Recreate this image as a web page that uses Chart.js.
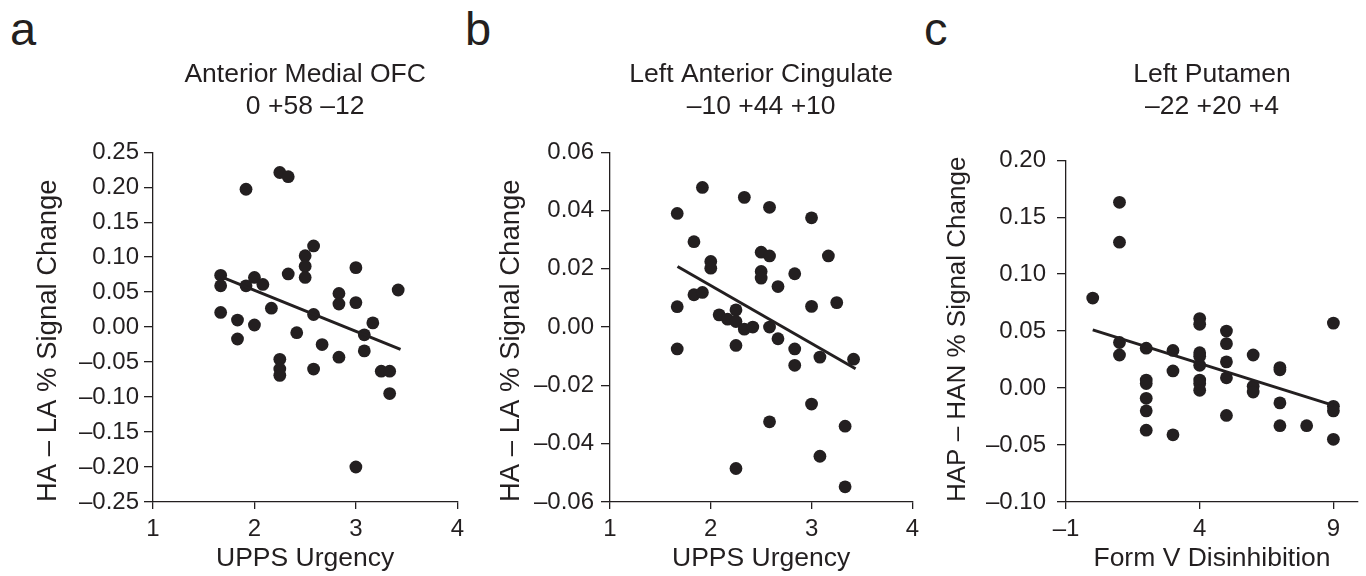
<!DOCTYPE html>
<html>
<head>
<meta charset="utf-8">
<title>Signal change vs impulsivity</title>
<script src="https://cdn.jsdelivr.net/npm/chart.js@4.4.1/dist/chart.umd.min.js"></script>
<style>
  html, body { margin: 0; padding: 0; background: #fff; }
  #page { position: relative; width: 1366px; height: 576px; overflow: hidden; font-family: "Liberation Sans", Arial, sans-serif; color: #231f20; }
  .panel { position: absolute; top: 0; height: 576px; }
  .letter { position: absolute; top: 6px; font-size: 47px; line-height: 46px; }
</style>
</head>
<body>
<div id="page">
  <div class="letter" style="left:10px">a</div>
  <div class="letter" style="left:465px">b</div>
  <div class="letter" style="left:924px">c</div>
  <div class="panel" style="left:0px;width:470px"><canvas id="chartA"></canvas></div>
  <div class="panel" style="left:470px;width:455px"><canvas id="chartB"></canvas></div>
  <div class="panel" style="left:925px;width:441px"><canvas id="chartC"></canvas></div>
</div>
<script>
// panel a: Anterior Medial OFC
const urgA = [1.667, 1.667, 1.667, 1.917, 1.917, 1.833, 1.833, 2.0, 2.0, 2.083, 2.167, 2.25, 2.333, 2.333,
  2.25, 2.25, 2.25, 2.417, 2.5, 2.5, 2.5, 2.583, 2.583, 2.583, 2.667, 2.833, 2.833, 2.833,
  3.0, 3.0, 3.0, 3.083, 3.083, 3.167, 3.25, 3.333, 3.333, 3.417];
const sigA = [0.074, 0.059, 0.021, 0.197, 0.059, 0.010, -0.017, 0.071, 0.003, 0.061, 0.027, 0.221, 0.215, 0.076,
  -0.046, -0.060, -0.069, -0.008, 0.102, 0.087, 0.071, 0.116, 0.018, -0.060, -0.025, 0.048, 0.033, -0.043,
  0.085, 0.035, -0.200, -0.011, -0.034, 0.006, -0.063, -0.063, -0.095, 0.053];
const fitXA = [1.667, 3.44];
const fitYA = [0.072, -0.032];
const xTicksA = [1, 2, 3, 4];
const yTicksA = [-0.25, -0.20, -0.15, -0.10, -0.05, 0, 0.05, 0.10, 0.15, 0.20, 0.25];

// panel b: Left Anterior Cingulate
const urgB = [1.667, 1.667, 1.667, 1.833, 1.833, 1.917, 1.917, 2.0, 2.0, 2.083, 2.167, 2.25, 2.25, 2.25, 2.25,
  2.333, 2.333, 2.417, 2.5, 2.5, 2.5, 2.583, 2.583, 2.583, 2.583, 2.667, 2.667, 2.833, 2.833, 2.833,
  3.0, 3.0, 3.0, 3.083, 3.083, 3.167, 3.25, 3.333, 3.333, 3.417];
const sigB = [0.039, 0.007, -0.0075, 0.0293, 0.0111, 0.0479, 0.0119, 0.0225, 0.0202, 0.0042, 0.0027, 0.0059, 0.0019, -0.0063, -0.0485,
  0.0445, -0.0007, 0.0, 0.0257, 0.0191, 0.0168, 0.0411, 0.0244, 0.0, -0.0325, 0.0139, -0.004, 0.0183, -0.0075, -0.0131,
  0.0375, 0.0071, -0.0264, -0.0103, -0.0443, 0.0244, 0.0084, -0.034, -0.0548, -0.011];
const fitXB = [1.67, 3.437];
const fitYB = [0.0208, -0.0143];
const xTicksB = [1, 2, 3, 4];
const yTicksB = [-0.06, -0.04, -0.02, 0, 0.02, 0.04, 0.06];

// panel c: Left Putamen
const disC = [0, 1, 1, 1, 1, 2, 2, 2, 2, 2, 2, 3, 3, 3, 4, 4, 4, 4, 4, 4, 4, 4,
  5, 5, 5, 5, 5, 6, 6, 6, 7, 7, 7, 7, 8, 9, 9, 9, 9];
const sigC = [0.079, 0.163, 0.128, 0.040, 0.029, 0.035, 0.007, 0.004, -0.009, -0.020, -0.037, 0.033, 0.015, -0.041,
  0.061, 0.056, 0.031, 0.028, 0.020, 0.007, 0.004, -0.002, 0.050, 0.039, 0.023, 0.009, -0.024,
  0.029, 0.0015, -0.0035, 0.018, 0.016, -0.013, -0.033, -0.033, 0.057, -0.016, -0.020, -0.045];
const fitXC = [0, 9];
const fitYC = [0.0511, -0.0152];
const xTicksC = [-1, 4, 9];
const yTicksC = [-0.10, -0.05, 0, 0.05, 0.10, 0.15, 0.20];

const INK = '#231f20';
const FONT = '"Liberation Sans", Arial, sans-serif';

// en dash for negatives, like the figure
function fmt(v, digits) {
  const s = Math.abs(v).toFixed(digits);
  return v < 0 ? '\u2013' + s : s;
}

function toPoints(xs, ys) {
  return xs.map((x, i) => ({ x: x, y: ys[i] }));
}

function makePanel(id, p) {
  new Chart(document.getElementById(id), {
    type: 'scatter',
    data: {
      datasets: [
        {
          type: 'line',
          data: toPoints(p.fitX, p.fitY),
          borderColor: INK,
          borderWidth: 3,
          pointRadius: 0,
          fill: false
        },
        {
          data: toPoints(p.xs, p.ys),
          backgroundColor: INK,
          borderWidth: 0,
          pointRadius: 6.4,
          pointHoverRadius: 6.4
        }
      ]
    },
    options: {
      responsive: true,
      maintainAspectRatio: false,
      animation: false,
      layout: { padding: { left: 0, right: p.padRight, top: 0, bottom: 0 } },
      plugins: {
        legend: { display: false },
        tooltip: { enabled: false },
        title: {
          display: true,
          fullSize: false,
          text: p.title,
          color: INK,
          font: { family: FONT, size: 26.5, weight: 'normal', lineHeight: 1.23 },
          padding: { top: 58, bottom: p.titleGap }
        }
      },
      scales: {
        x: {
          type: 'linear',
          min: p.xMin,
          max: p.xMax,
          afterBuildTicks: s => { s.ticks = p.xTicks.map(v => ({ value: v })); },
          afterFit: s => { s.height = 74; },
          ticks: { callback: v => fmt(v, 0), color: INK, font: { family: FONT, size: 24 }, padding: 6, maxRotation: 0 },
          grid: { drawOnChartArea: false, drawTicks: true, tickLength: 7, color: INK, lineWidth: 1.3 },
          border: { display: true, color: INK, width: 1.3 },
          title: { display: true, text: p.xTitle, color: INK, font: { family: FONT, size: 26.5, lineHeight: 1.2 }, padding: { top: 0, bottom: 1 } }
        },
        y: {
          type: 'linear',
          min: p.yMin,
          max: p.yMax,
          afterBuildTicks: s => { s.ticks = p.yTicks.map(v => ({ value: v })); },
          afterFit: s => { s.width = p.yWidth; },
          ticks: { callback: v => fmt(v, 2), color: INK, font: { family: FONT, size: 24 }, padding: p.yPad },
          grid: { drawOnChartArea: false, drawTicks: true, tickLength: 9, color: INK, lineWidth: 1.3 },
          border: { display: true, color: INK, width: 1.3 },
          title: { display: true, align: 'start', text: p.yTitle, color: INK, font: { family: FONT, size: p.yTitleSize, lineHeight: 1.2 }, padding: { top: p.yTitlePad, bottom: 0 } }
        }
      }
    }
  });
}

makePanel('chartA', {
  xs: urgA, ys: sigA, fitX: fitXA, fitY: fitYA,
  xTicks: xTicksA, yTicks: yTicksA, xMin: 1, xMax: 4, yMin: -0.25, yMax: 0.25,
  title: ['Anterior Medial OFC', '0 +58 \u201312'],
  xTitle: 'UPPS Urgency', yTitle: 'HA \u2013 LA % Signal Change', yTitleSize: 27.5,
  yWidth: 153, yPad: 5, yTitlePad: 32, padRight: 9, titleGap: 29
});

makePanel('chartB', {
  xs: urgB, ys: sigB, fitX: fitXB, fitY: fitYB,
  xTicks: xTicksB, yTicks: yTicksB, xMin: 1, xMax: 4, yMin: -0.06, yMax: 0.06,
  title: ['Left Anterior Cingulate', '\u201310 +44 +10'],
  xTitle: 'UPPS Urgency', yTitle: 'HA \u2013 LA % Signal Change', yTitleSize: 27.5,
  yWidth: 140, yPad: 7, yTitlePad: 25, padRight: 8, titleGap: 29
});

makePanel('chartC', {
  xs: disC, ys: sigC, fitX: fitXC, fitY: fitYC,
  xTicks: xTicksC, yTicks: yTicksC, xMin: -1, xMax: 9.92, yMin: -0.10, yMax: 0.20,
  title: ['Left Putamen', '\u201322 +20 +4'],
  xTitle: 'Form V Disinhibition', yTitle: 'HAP \u2013 HAN % Signal Change', yTitleSize: 26,
  yWidth: 141, yPad: 11, yTitlePad: 17, padRight: 8, titleGap: 37
});
</script>
</body>
</html>
